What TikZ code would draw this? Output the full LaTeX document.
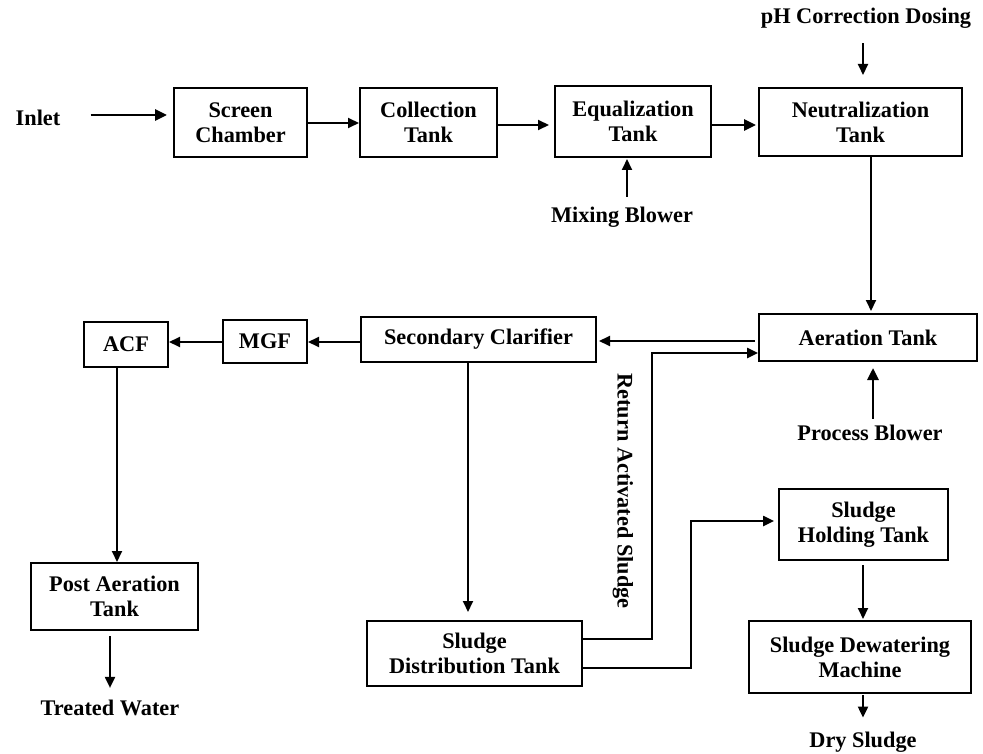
\documentclass[tikz,border=0pt]{standalone}
\usepackage{fontspec}
\setmainfont{Liberation Serif}
\usetikzlibrary{arrows.meta,calc}
\begin{document}
\begin{tikzpicture}[x=1pt,y=-1pt,
  font=\bfseries\fontsize{22.3}{25}\selectfont,
  box/.style={draw, line width=2pt, inner sep=0pt, align=center},
  lbl/.style={inner sep=0pt, align=center},
  arr/.style={line width=2pt, -{Triangle[length=11pt,width=10pt]}},
  arrthick/.style={line width=2.8pt, -{Triangle[length=12pt,width=11pt]}},
  pipe/.style={line width=2.4pt, -{Triangle[length=11pt,width=10pt]}}]
\fill[white] (0,0) rectangle (983,754);
\useasboundingbox (0,0) rectangle (983,754);

% boxes
\node[box, minimum width=133pt, minimum height=69pt] (screen) at (240.5,122.5) {Screen\\Chamber};
\node[box, minimum width=137pt, minimum height=69pt] (coll) at (428.5,122.5) {Collection\\Tank};
\node[box, minimum width=156pt, minimum height=71pt] (eq) at (633,121.5) {Equalization\\Tank};
\node[box, minimum width=203pt, minimum height=68pt] (neut) at (860.5,122) {Neutralization\\Tank};
\node[box, minimum width=218pt, minimum height=47pt] (aer) at (868,337.5) {Aeration Tank};
\node[box, minimum width=235pt, minimum height=45pt] (sec) at (478.5,339.5) {Secondary Clarifier};
\node[box, minimum width=84pt, minimum height=43pt] (mgf) at (265,341.5) {MGF};
\node[box, minimum width=84pt, minimum height=45pt] (acf) at (126,344.5) {ACF};
\node[box, minimum width=167pt, minimum height=67pt] (post) at (114.5,596.5) {Post Aeration\\Tank};
\node[box, minimum width=215pt, minimum height=65pt] (dist) at (474.5,653.5) {Sludge\\Distribution Tank};
\node[box, minimum width=169pt, minimum height=71pt] (hold) at (863.5,524.5) {Sludge\\Holding Tank};
\node[box, minimum width=222pt, minimum height=72pt] (dew) at (860,657) {Sludge Dewatering\\Machine};

% labels
\node[lbl] (inlet) at (38,118) {Inlet};
\node[lbl] (ph) at (866,18) {pH Correction Dosing};
\node[lbl] (mix) at (622,217) {Mixing Blower};
\node[lbl] (proc) at (870,433) {Process Blower};
\node[lbl] (treated) at (110,708) {Treated Water};
\node[lbl] (dry) at (863,742) {Dry Sludge};
\node[lbl, rotate=-90] (ras) at (623,491) {Return Activated Sludge};

% bend points
\coordinate (r1) at (652,639);
\coordinate (r2) at (652,353);
\coordinate (s1) at (691,668);
\coordinate (s2) at (691,521);

% connectors top row
\draw[arrthick, shorten <=30pt, shorten >=6pt] (inlet.east |- 0,115) -- (screen.west |- 0,115);
\draw[arr] (screen.east |- 0,123) -- (coll.west |- 0,123);
\draw[arr, shorten >=5pt] (coll.east |- 0,125) -- (eq.west |- 0,125);
\draw[arrthick, shorten >=2pt] (eq.east |- 0,125) -- (neut.west |- 0,125);
\draw[arr, shorten <=15pt, shorten >=12pt] (ph.south -| 863,0) -- (neut.north -| 863,0);
\draw[arr, shorten <=10pt, shorten >=1pt] (mix.north -| 627,0) -- (eq.south -| 627,0);
\draw[arr, shorten >=2pt] (neut.south -| 871,0) -- (aer.north -| 871,0);

% middle row
\draw[arr, shorten <=3pt, shorten >=2pt] (aer.west |- 0,341) -- (sec.east |- 0,341);
\draw[arr] (sec.west |- 0,342) -- (mgf.east |- 0,342);
\draw[arr] (mgf.west |- 0,342) -- (acf.east |- 0,342);
\draw[arrthick, shorten <=6pt, shorten >=6pt] (proc.north -| 873,0) -- (aer.south -| 873,0);

% left column
\draw[arr] (acf.south -| 117,0) -- (post.north -| 117,0);
\draw[arr, shorten <=5pt, shorten >=12pt] (post.south -| 110,0) -- (treated.north -| 110,0);

% sludge lines
\draw[arr, shorten >=8pt] (sec.south -| 468,0) -- (dist.north -| 468,0);
\draw[pipe] (dist.east |- r1) -- (r1) -- (r2) -- (aer.west |- r2);
\draw[pipe, shorten >=4pt] (dist.east |- s1) -- (s1) -- (s2) -- (hold.west |- s2);
\draw[arr, shorten <=4pt, shorten >=1pt] (hold.south -| 863,0) -- (dew.north -| 863,0);
\draw[arr, shorten <=1pt, shorten >=14pt] (dew.south -| 863,0) -- (dry.north -| 863,0);
\end{tikzpicture}
\end{document}
